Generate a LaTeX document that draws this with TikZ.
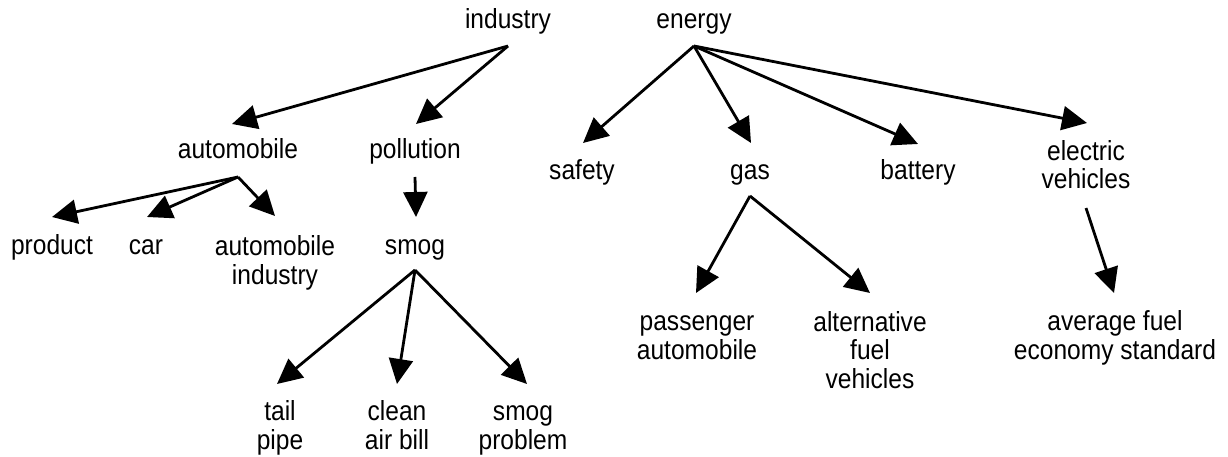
\documentclass[tikz,border=0pt]{standalone}
\usepackage{fontspec}
\setmainfont{Liberation Sans}[FakeStretch=0.89]
\usetikzlibrary{arrows.meta}
\begin{document}
\begin{tikzpicture}[x=1pt,y=-1pt,
  lbl/.style={inner sep=0pt, outer sep=0pt, align=center, anchor=base, font=\fontsize{27.6}{28.5}\selectfont},
  arr/.style={line width=2.8pt, -{Triangle[length=25pt,width=24pt]}}]
\useasboundingbox (0,0) rectangle (1228,457);
% nodes (anchor = baseline of the last line)
\node[lbl] (industry) at (508,29) {industry};
\node[lbl] (energy) at (694,29) {energy};
\node[lbl] (automobile) at (238,159) {automobile};
\node[lbl] (pollution) at (415,159) {pollution};
\node[lbl] (safety) at (582,179) {safety};
\node[lbl] (gas) at (750,179) {gas};
\node[lbl] (battery) at (918,179) {battery};
\node[lbl] (electric) at (1086,189) {electric\\vehicles};
\node[lbl] (product) at (52,254) {product};
\node[lbl] (car) at (146,254) {car};
\node[lbl] (autoind) at (275,284) {automobile\\industry};
\node[lbl] (smog) at (415,254) {smog};
\node[lbl] (passenger) at (697,359) {passenger\\automobile};
\node[lbl] (altfuel) at (870,388) {alternative\\fuel\\vehicles};
\node[lbl] (average) at (1115,359) {average fuel\\economy standard};
\node[lbl] (tail) at (280,449) {tail\\pipe};
\node[lbl] (clean) at (397,449) {clean\\air bill};
\node[lbl] (smogprob) at (523,449) {smog\\problem};
% fan-out points
\coordinate (industry-out) at ([yshift=-17pt]industry.base);
\coordinate (energy-out) at ([yshift=-17pt]energy.base);
\coordinate (automobile-out) at ([yshift=-18pt]automobile.base);
\coordinate (pollution-out) at ([yshift=-18pt]pollution.base);
\coordinate (gas-out) at ([yshift=-17pt]gas.base);
\coordinate (electric-out) at ([yshift=-19pt]electric.base);
\coordinate (smog-out) at ([yshift=-16pt]smog.base);
% connectors
\draw[arr] (industry-out) -- ([shift={(-6pt,35pt)}]automobile.base);
\draw[arr] (industry-out) -- ([shift={(1pt,35pt)}]pollution.base);
\draw[arr] (energy-out) -- ([shift={(1pt,36pt)}]safety.base);
\draw[arr] (energy-out) -- ([shift={(1pt,36pt)}]gas.base);
\draw[arr] (energy-out) -- ([shift={(0pt,35pt)}]battery.base);
\draw[arr] (energy-out) -- ([shift={(1pt,66pt)}]electric.base);
\draw[arr] (automobile-out) -- ([shift={(0pt,37pt)}]product.base);
\draw[arr] (automobile-out) -- ([shift={(1pt,37pt)}]car.base);
\draw[arr] (automobile-out) -- ([shift={(0pt,68pt)}]autoind.base);
\draw[arr] (pollution-out) -- ([shift={(1pt,37pt)}]smog.base);
\draw[arr] (smog-out) -- ([shift={(-3pt,65pt)}]tail.base);
\draw[arr] (smog-out) -- ([shift={(0pt,65pt)}]clean.base);
\draw[arr] (smog-out) -- ([shift={(4pt,65pt)}]smogprob.base);
\draw[arr] (gas-out) -- ([shift={(-1pt,66pt)}]passenger.base);
\draw[arr] (gas-out) -- ([shift={(0pt,95pt)}]altfuel.base);
\draw[arr] (electric-out) -- ([shift={(-1pt,66pt)}]average.base);
\end{tikzpicture}
\end{document}
